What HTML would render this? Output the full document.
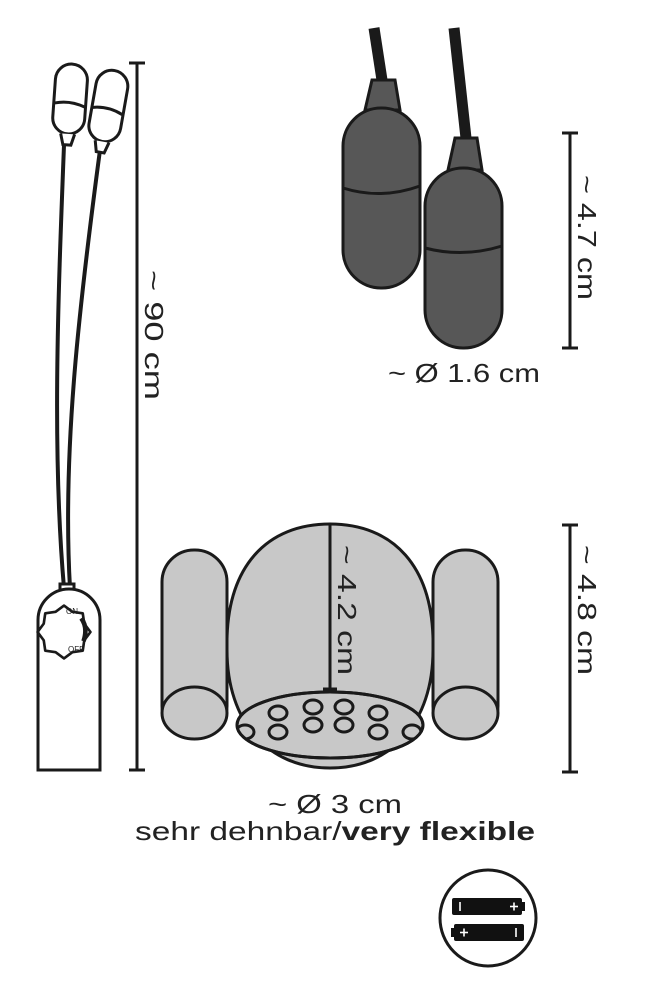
<!DOCTYPE html>
<html><head><style>
html,body{margin:0;padding:0;background:#fff;}
svg{display:block;}
text{font-family:"Liberation Sans",sans-serif;fill:#222;}
</style></head><body>
<svg width="648" height="1000" viewBox="0 0 648 1000" xmlns="http://www.w3.org/2000/svg">
<defs>
<clipPath id="open"><ellipse cx="330" cy="725" rx="93" ry="33"/></clipPath>
</defs>
<!-- left small bullets & cords -->
<g fill="none" stroke="#1a1a1a" stroke-width="3">
<path d="M64 145 C58 300 52 450 64 588" stroke-width="4"/>
<path d="M100 150 C80 300 62 450 70 588" stroke-width="4"/>
<g transform="rotate(4 70 100)">
<rect x="54" y="64" width="32" height="70" rx="16" fill="#fff"/>
<path d="M55 104 Q70 100 85 106"/>
<path d="M63 134 L66 145 L74 145 L77 134" fill="#fff"/>
</g>
<g transform="rotate(10 108 108)">
<rect x="92" y="70" width="32" height="72" rx="16" fill="#fff"/>
<path d="M93 110 Q108 106 123 112"/>
<path d="M101 142 L104 153 L112 153 L115 142" fill="#fff"/>
</g>
<!-- control box -->
<rect x="60" y="584" width="14" height="8" fill="#fff"/>
<path d="M38 770 L38 620 A31 31 0 0 1 100 620 L100 770 Z" fill="#fff" stroke-width="3"/>
<g transform="translate(64 632) scale(1.15) translate(-62 -630)">
<polygon points="85,630 79.6,637.3 78.3,646.3 69.3,647.6 62,653 54.7,647.6 45.7,646.3 44.4,637.3 39,630 44.4,622.7 45.7,613.7 54.7,612.4 62,607 69.3,612.4 78.3,613.7 79.6,622.7" stroke-width="2.3" stroke-linejoin="round"/>
<path d="M77 618 Q83 626 79 638" stroke-width="4"/>
</g>
</g>
<text x="66" y="614" font-size="8">ON</text>
<text x="68" y="652" font-size="8">OFF</text>
<!-- dimension lines -->
<g stroke="#1a1a1a" stroke-width="3">
<line x1="137" y1="63" x2="137" y2="770"/>
<line x1="129" y1="63" x2="145" y2="63"/>
<line x1="129" y1="770" x2="145" y2="770"/>
<line x1="570" y1="133" x2="570" y2="348"/>
<line x1="562" y1="133" x2="578" y2="133"/>
<line x1="562" y1="348" x2="578" y2="348"/>
<line x1="570" y1="525" x2="570" y2="772"/>
<line x1="562" y1="525" x2="578" y2="525"/>
<line x1="562" y1="772" x2="578" y2="772"/>
</g>
<text transform="translate(145 270) rotate(90)" font-size="26" textLength="130" lengthAdjust="spacingAndGlyphs">~ 90 cm</text>
<text transform="translate(578 175) rotate(90)" font-size="26" textLength="125" lengthAdjust="spacingAndGlyphs">~ 4.7 cm</text>
<text transform="translate(578 545) rotate(90)" font-size="26" textLength="130" lengthAdjust="spacingAndGlyphs">~ 4.8 cm</text>
<!-- top right bullets -->
<g stroke="#1a1a1a" stroke-width="3">
<path d="M374 28 L382 80" stroke-width="11"/>
<path d="M454 28 L466 138" stroke-width="11"/>
<path d="M372 80 L395 80 L400 110 L365 110 Z" fill="#575757"/>
<rect x="343" y="108" width="77" height="180" rx="38" fill="#575757"/>
<path d="M343 188 Q381 200 420 186" fill="none"/>
<path d="M455 138 L477 138 L482 170 L448 170 Z" fill="#575757"/>
<rect x="425" y="168" width="77" height="180" rx="38" fill="#575757"/>
<path d="M425 248 Q463 258 502 246" fill="none"/>
</g>
<text x="388" y="382" font-size="26" textLength="152" lengthAdjust="spacingAndGlyphs">~ Ø 1.6 cm</text>
<!-- bottom sleeve -->
<g stroke="#1a1a1a" stroke-width="3" fill="#c8c8c8">
<path d="M227 650 C225 565 268 524 330 524 C392 524 435 565 433 650 C433 722 392 768 330 768 C268 768 227 722 227 650 Z"/>
<ellipse cx="330" cy="725" rx="93" ry="33"/>
<g clip-path="url(#open)">
<ellipse cx="313" cy="707" rx="9" ry="7"/>
<ellipse cx="344" cy="707" rx="9" ry="7"/>
<ellipse cx="278" cy="713" rx="9" ry="7"/>
<ellipse cx="378" cy="713" rx="9" ry="7"/>
<ellipse cx="313" cy="725" rx="9" ry="7"/>
<ellipse cx="344" cy="725" rx="9" ry="7"/>
<ellipse cx="278" cy="732" rx="9" ry="7"/>
<ellipse cx="378" cy="732" rx="9" ry="7"/>
<ellipse cx="245" cy="732" rx="9" ry="7"/>
<ellipse cx="412" cy="732" rx="9" ry="7"/>
</g>
<ellipse cx="330" cy="725" rx="93" ry="33" fill="none"/>
<rect x="162" y="550" width="65" height="188" rx="32"/>
<ellipse cx="194.5" cy="713" rx="32.5" ry="26"/>
<rect x="433" y="550" width="65" height="188" rx="32"/>
<ellipse cx="465.5" cy="713" rx="32.5" ry="26"/>
<line x1="330" y1="524" x2="330" y2="689"/>
<line x1="323" y1="689" x2="337" y2="689"/>
</g>
<text transform="translate(338 545) rotate(90)" font-size="26" textLength="130" lengthAdjust="spacingAndGlyphs">~ 4.2 cm</text>
<text x="268" y="813" font-size="26" textLength="134" lengthAdjust="spacingAndGlyphs">~ Ø 3 cm</text>
<text x="135" y="840" font-size="26" textLength="400" lengthAdjust="spacingAndGlyphs">sehr dehnbar/<tspan font-weight="bold">very flexible</tspan></text>
<!-- battery icon -->
<circle cx="488" cy="918" r="48" fill="#fff" stroke="#1a1a1a" stroke-width="3"/>
<rect x="452" y="898" width="70" height="17" rx="2" fill="#111"/>
<rect x="522" y="902" width="3" height="9" fill="#111"/>
<rect x="454" y="924" width="70" height="17" rx="2" fill="#111"/>
<rect x="451" y="928" width="3" height="9" fill="#111"/>
<g stroke="#fff" stroke-width="1.6">
<line x1="460" y1="902" x2="460" y2="911"/>
<line x1="510" y1="906.5" x2="518" y2="906.5"/><line x1="514" y1="902.5" x2="514" y2="910.5"/>
<line x1="460" y1="932.5" x2="468" y2="932.5"/><line x1="464" y1="928.5" x2="464" y2="936.5"/>
<line x1="516" y1="928" x2="516" y2="937"/>
</g>
</svg>
</body></html>
